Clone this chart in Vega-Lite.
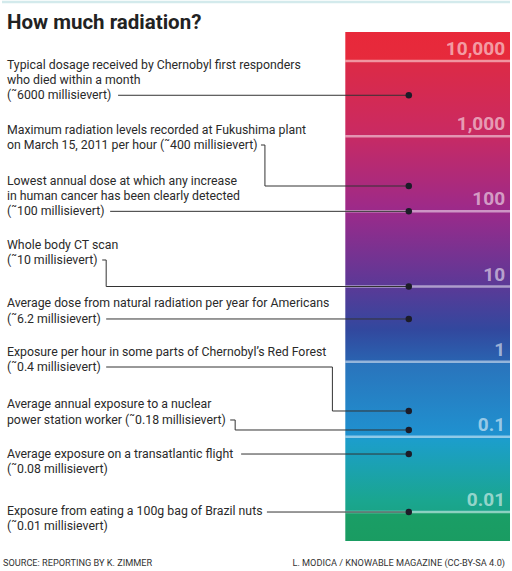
{
  "$schema": "https://vega.github.io/schema/vega-lite/v6.json",
  "width": 512,
  "height": 571,
  "padding": 0,
  "autosize": {"type": "fit", "contains": "padding"},
  "background": "white",
  "config": {"view": {"stroke": null}},
  "datasets": {
    "bar": [{"x": 346, "xe": 512, "v": 24310, "v2": 0.004116}],
    "topline": [{"x": 0, "xe": 512, "v": 60940}],
    "levels": [
      {"v": 10000, "x": 346, "xe": 512, "lx": 507, "label": "10,000"},
      {"v": 1000, "x": 346, "xe": 512, "lx": 507, "label": "1,000"},
      {"v": 100, "x": 346, "xe": 512, "lx": 507, "label": "100"},
      {"v": 10, "x": 346, "xe": 512, "lx": 507, "label": "10"},
      {"v": 1, "x": 346, "xe": 512, "lx": 507, "label": "1"},
      {"v": 0.1, "x": 346, "xe": 512, "lx": 507, "label": "0.1"},
      {"v": 0.01, "x": 346, "xe": 512, "lx": 507, "label": "0.01"}
    ],
    "dots": [
      {"item": "Chernobyl first responders", "stated_mSv": 6000, "x": 410, "v": 3500},
      {"item": "Fukushima per hour", "stated_mSv": 400, "x": 410, "v": 217.3},
      {"item": "Lowest cancer dose", "stated_mSv": 100, "x": 410, "v": 100},
      {"item": "Whole body CT", "stated_mSv": 10, "x": 410, "v": 10},
      {"item": "Natural radiation US", "stated_mSv": 6.2, "x": 410, "v": 3.7},
      {"item": "Red Forest per hour", "stated_mSv": 0.4, "x": 410, "v": 0.2208},
      {"item": "Nuclear worker", "stated_mSv": 0.18, "x": 410, "v": 0.1234},
      {"item": "Transatlantic flight", "stated_mSv": 0.08, "x": 410, "v": 0.0591},
      {"item": "Brazil nuts", "stated_mSv": 0.01, "x": 410, "v": 0.01}
    ],
    "leaders": [
      {"id": 1, "seq": 1, "x": 117, "v": 3500}, {"id": 1, "seq": 2, "x": 410, "v": 3500},
      {"id": 2, "seq": 1, "x": 261, "v": 763}, {"id": 2, "seq": 2, "x": 265, "v": 763}, {"id": 2, "seq": 3, "x": 265, "v": 217.3}, {"id": 2, "seq": 4, "x": 410, "v": 217.3},
      {"id": 3, "seq": 1, "x": 109, "v": 100}, {"id": 3, "seq": 2, "x": 410, "v": 100},
      {"id": 4, "seq": 1, "x": 101, "v": 22.53}, {"id": 4, "seq": 2, "x": 105, "v": 22.53}, {"id": 4, "seq": 3, "x": 105, "v": 10}, {"id": 4, "seq": 4, "x": 410, "v": 10},
      {"id": 5, "seq": 1, "x": 105, "v": 3.7}, {"id": 5, "seq": 2, "x": 410, "v": 3.7},
      {"id": 6, "seq": 1, "x": 105, "v": 0.8495}, {"id": 6, "seq": 2, "x": 333, "v": 0.8495}, {"id": 6, "seq": 3, "x": 333, "v": 0.2208}, {"id": 6, "seq": 4, "x": 410, "v": 0.2208},
      {"id": 7, "seq": 1, "x": 230, "v": 0.1676}, {"id": 7, "seq": 2, "x": 235, "v": 0.1676}, {"id": 7, "seq": 3, "x": 235, "v": 0.1234}, {"id": 7, "seq": 4, "x": 410, "v": 0.1234},
      {"id": 8, "seq": 1, "x": 241, "v": 0.0591}, {"id": 8, "seq": 2, "x": 410, "v": 0.0591},
      {"id": 9, "seq": 1, "x": 267, "v": 0.01}, {"id": 9, "seq": 2, "x": 410, "v": 0.01}
    ],
    "notes": [
      {"x": 5, "v": 8847, "text": "Typical dosage received by Chernobyl first responders"},
      {"x": 5, "v": 5587, "text": "who died within a month"},
      {"x": 5, "v": 3529, "text": "(˜6000 millisievert)"},
      {"x": 5, "v": 1208, "text": "Maximum radiation levels recorded at Fukushima plant"},
      {"x": 5, "v": 763, "text": "on March 15, 2011 per hour (˜400 millisievert)"},
      {"x": 5, "v": 253.2, "text": "Lowest annual dose at which any increase"},
      {"x": 5, "v": 160, "text": "in human cancer has been clearly detected"},
      {"x": 5, "v": 100, "text": "(˜100 millisievert)"},
      {"x": 5, "v": 35.67, "text": "Whole body CT scan"},
      {"x": 5, "v": 22.53, "text": "(˜10 millisievert)"},
      {"x": 5, "v": 6.034, "text": "Average dose from natural radiation per year for Americans"},
      {"x": 5, "v": 3.697, "text": "(˜6.2 millisievert)"},
      {"x": 5, "v": 1.345, "text": "Exposure per hour in some parts of Chernobyl’s Red Forest"},
      {"x": 5, "v": 0.8495, "text": "(˜0.4 millisievert)"},
      {"x": 5, "v": 0.2735, "text": "Average annual exposure to a nuclear"},
      {"x": 5, "v": 0.1676, "text": "power station worker (˜0.18 millisievert)"},
      {"x": 5, "v": 0.0591, "text": "Average exposure on a transatlantic flight"},
      {"x": 5, "v": 0.03735, "text": "(˜0.08 millisievert)"},
      {"x": 5, "v": 0.0103, "text": "Exposure from eating a 100g bag of Brazil nuts"},
      {"x": 5, "v": 0.006516, "text": "(˜0.01 millisievert)"}
    ],
    "title": [{"x": 5, "v": 32030, "text": "How much radiation?"}],
    "footerL": [{"x": 1, "v": 0.002099, "text": "SOURCE: REPORTING BY K. ZIMMER"}],
    "footerR": [{"x": 507, "v": 0.002099, "text": "L. MODICA / KNOWABLE MAGAZINE (CC-BY-SA 4.0)"}]
  },
  "encoding": {
    "x": {"field": "x", "type": "quantitative", "axis": null, "scale": {"domain": [0, 512], "nice": false, "zero": false}},
    "y": {"field": "v", "type": "quantitative", "axis": null, "scale": {"type": "log", "domain": [0.001642, 64790], "nice": false}}
  },
  "layer": [
    {
      "data": {"name": "topline"},
      "mark": {"type": "rule", "stroke": "#d3eaec", "strokeWidth": 2.5},
      "encoding": {"x2": {"field": "xe"}}
    },
    {
      "data": {"name": "bar"},
      "mark": {
        "type": "rect",
        "color": {
          "gradient": "linear", "x1": 0, "y1": 0, "x2": 0, "y2": 1,
          "stops": [
            {"offset": 0, "color": "#e8283a"},
            {"offset": 0.055, "color": "#e62a3c"},
            {"offset": 0.06, "color": "#dc2a46"},
            {"offset": 0.19, "color": "#cb2a60"},
            {"offset": 0.35, "color": "#9c2a8a"},
            {"offset": 0.49, "color": "#5f3896"},
            {"offset": 0.585, "color": "#32489e"},
            {"offset": 0.645, "color": "#2a62b0"},
            {"offset": 0.652, "color": "#2a74bc"},
            {"offset": 0.795, "color": "#1f92d0"},
            {"offset": 0.802, "color": "#1c9ecb"},
            {"offset": 0.92, "color": "#1aa690"},
            {"offset": 0.942, "color": "#1aa488"},
            {"offset": 0.947, "color": "#1a9e66"},
            {"offset": 1, "color": "#1a9c62"}
          ]
        }
      },
      "encoding": {"x2": {"field": "xe"}, "y2": {"field": "v2"}}
    },
    {
      "data": {"name": "levels"},
      "mark": {"type": "rule", "stroke": "white", "strokeOpacity": 0.5, "strokeWidth": 2.5},
      "encoding": {"x2": {"field": "xe"}}
    },
    {
      "data": {"name": "levels"},
      "mark": {"type": "text", "align": "right", "baseline": "alphabetic", "dy": -6, "font": "Roboto", "fontWeight": "bold", "fontSize": 19, "fill": "white", "fillOpacity": 0.55},
      "encoding": {"x": {"field": "lx", "type": "quantitative"}, "text": {"field": "label"}}
    },
    {
      "data": {"name": "leaders"},
      "mark": {"type": "line", "stroke": "#333333", "strokeWidth": 1, "interpolate": "linear"},
      "encoding": {"detail": {"field": "id"}, "order": {"field": "seq", "type": "quantitative"}}
    },
    {
      "data": {"name": "dots"},
      "mark": {"type": "circle", "fill": "#1c1c28", "opacity": 1, "size": 42},
      "encoding": {}
    },
    {
      "data": {"name": "notes"},
      "mark": {"type": "text", "align": "left", "baseline": "middle", "font": "Roboto", "fontSize": 12.3, "fill": "#2a2a2a"},
      "encoding": {"text": {"field": "text"}}
    },
    {
      "data": {"name": "title"},
      "mark": {"type": "text", "align": "left", "baseline": "middle", "font": "Roboto", "fontWeight": "bold", "fontSize": 20.5, "fill": "#222222"},
      "encoding": {"text": {"field": "text"}}
    },
    {
      "data": {"name": "footerL"},
      "mark": {"type": "text", "align": "left", "baseline": "middle", "font": "Roboto", "fontSize": 9.2, "fill": "#333333"},
      "encoding": {"text": {"field": "text"}}
    },
    {
      "data": {"name": "footerR"},
      "mark": {"type": "text", "align": "right", "baseline": "middle", "font": "Roboto", "fontSize": 9.2, "fill": "#333333"},
      "encoding": {"text": {"field": "text"}}
    }
  ]
}
